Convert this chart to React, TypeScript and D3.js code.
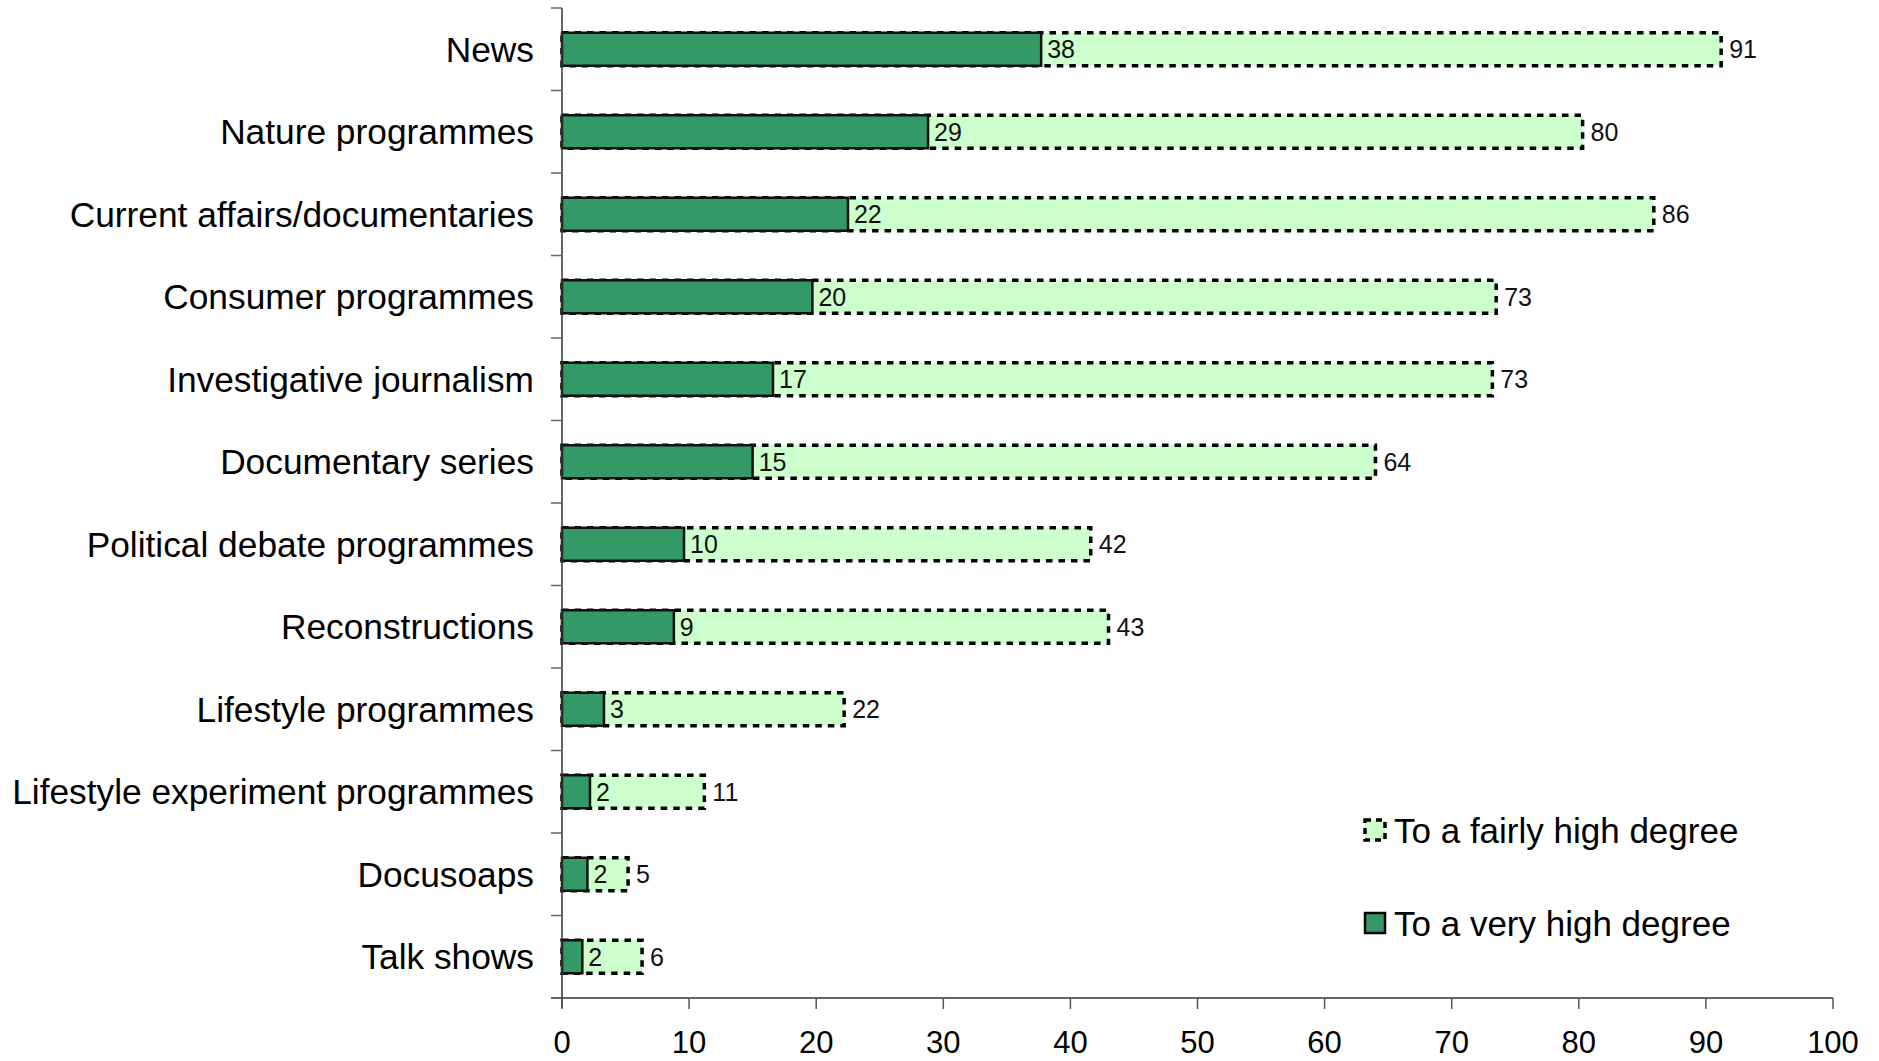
import React, { useEffect, useRef } from "react";
import * as d3 from "d3";

const categories = [
  "News",
  "Nature programmes",
  "Current affairs/documentaries",
  "Consumer programmes",
  "Investigative journalism",
  "Documentary series",
  "Political debate programmes",
  "Reconstructions",
  "Lifestyle programmes",
  "Lifestyle experiment programmes",
  "Docusoaps",
  "Talk shows",
];
const veryHigh = [37.7, 28.8, 22.5, 19.7, 16.6, 15.0, 9.6, 8.8, 3.3, 2.2, 2.0, 1.6];
const fairlyHigh = [91.2, 80.3, 85.9, 73.5, 73.2, 64.0, 41.6, 43.0, 22.2, 11.2, 5.2, 6.3];
const veryHighLabels = ["38", "29", "22", "20", "17", "15", "10", "9", "3", "2", "2", "2"];
const fairlyHighLabels = ["91", "80", "86", "73", "73", "64", "42", "43", "22", "11", "5", "6"];
const xTicks = [0, 10, 20, 30, 40, 50, 60, 70, 80, 90, 100];
const legendItems = ["To a fairly high degree", "To a very high degree"];

const W = 1879;
const H = 1061;
const FONT = "'Liberation Sans', Arial, sans-serif";
const DARK = "#339966";
const LIGHT = "#CCFFCC";

export default function App() {
  const ref = useRef<SVGSVGElement>(null);

  useEffect(() => {
    const svg = d3.select(ref.current);
    svg.selectAll("*").remove();

    const x0 = 562, x1 = 1833, yTop = 8, yBot = 998;
    const x = d3.scaleLinear().domain([0, 100]).range([x0, x1]);
    const y = d3.scaleBand<string>().domain(categories).range([yTop, yBot]).paddingInner(0.6).paddingOuter(0.3);
    const band = d3.scaleBand<string>().domain(categories).range([yTop, yBot]);

    const g = svg.append("g");

    // light bars (behind)
    g.selectAll("rect.light")
      .data(categories)
      .enter()
      .append("rect")
      .attr("x", x(0))
      .attr("y", (d) => y(d)!)
      .attr("width", (_d, i) => x(fairlyHigh[i]) - x(0))
      .attr("height", y.bandwidth())
      .attr("fill", LIGHT)
      .attr("stroke", "#000")
      .attr("stroke-width", 3.5)
      .attr("stroke-dasharray", "6.5,6");

    // dark bars
    g.selectAll("rect.dark")
      .data(categories)
      .enter()
      .append("rect")
      .attr("x", x(0))
      .attr("y", (d) => y(d)!)
      .attr("width", (_d, i) => x(veryHigh[i]) - x(0))
      .attr("height", y.bandwidth())
      .attr("fill", DARK)
      .attr("stroke", "#111")
      .attr("stroke-width", 2.5);

    // value labels
    g.selectAll("text.vh")
      .data(categories)
      .enter()
      .append("text")
      .attr("x", (_d, i) => x(veryHigh[i]) + 6)
      .attr("y", (d) => y(d)! + y.bandwidth() / 2)
      .attr("dy", "0.36em")
      .attr("font-family", FONT)
      .attr("font-size", 25)
      .attr("fill", "#111")
      .text((_d, i) => veryHighLabels[i]);

    g.selectAll("text.fh")
      .data(categories)
      .enter()
      .append("text")
      .attr("x", (_d, i) => x(fairlyHigh[i]) + 8)
      .attr("y", (d) => y(d)! + y.bandwidth() / 2)
      .attr("dy", "0.36em")
      .attr("font-family", FONT)
      .attr("font-size", 25)
      .attr("fill", "#111")
      .text((_d, i) => fairlyHighLabels[i]);

    // y axis
    g.append("line")
      .attr("x1", x0).attr("x2", x0)
      .attr("y1", yTop).attr("y2", yBot + 10)
      .attr("stroke", "#333").attr("stroke-width", 1.5);
    const bounds = d3.range(categories.length + 1).map((i) => yTop + i * band.bandwidth());
    g.selectAll("line.ytick")
      .data(bounds.slice(0, categories.length))
      .enter()
      .append("line")
      .attr("x1", x0 - 11).attr("x2", x0)
      .attr("y1", (d) => d).attr("y2", (d) => d)
      .attr("stroke", "#666").attr("stroke-width", 1.5);

    // category labels
    g.selectAll("text.cat")
      .data(categories)
      .enter()
      .append("text")
      .attr("x", 534)
      .attr("y", (d) => band(d)! + band.bandwidth() / 2)
      .attr("dy", "0.36em")
      .attr("text-anchor", "end")
      .attr("font-family", FONT)
      .attr("font-size", 35.3)
      .attr("fill", "#000")
      .text((d) => d);

    // x axis
    g.append("line")
      .attr("x1", x0 - 11).attr("x2", x1)
      .attr("y1", yBot).attr("y2", yBot)
      .attr("stroke", "#333").attr("stroke-width", 1.5);
    g.selectAll("line.xtick")
      .data(xTicks)
      .enter()
      .append("line")
      .attr("x1", (d) => x(d)).attr("x2", (d) => x(d))
      .attr("y1", yBot).attr("y2", yBot + 11)
      .attr("stroke", "#555").attr("stroke-width", 1.5);
    g.selectAll("text.xtl")
      .data(xTicks)
      .enter()
      .append("text")
      .attr("x", (d) => x(d))
      .attr("y", 1053)
      .attr("text-anchor", "middle")
      .attr("font-family", FONT)
      .attr("font-size", 31)
      .attr("fill", "#000")
      .text((d) => String(d));

    // legend
    const legY = [830, 923];
    const lg = g.append("g");
    legendItems.forEach((label, i) => {
      lg.append("rect")
        .attr("x", 1365).attr("y", legY[i] - 10)
        .attr("width", 20).attr("height", 20)
        .attr("fill", i === 0 ? LIGHT : DARK)
        .attr("stroke", "#000")
        .attr("stroke-width", i === 0 ? 3.5 : 2.5)
        .attr("stroke-dasharray", i === 0 ? "6,5" : null);
      lg.append("text")
        .attr("x", 1394).attr("y", legY[i])
        .attr("dy", "0.36em")
        .attr("font-family", FONT)
        .attr("font-size", 35)
        .attr("fill", "#000")
        .text(label);
    });
  }, []);

  return (
    <svg
      ref={ref}
      width={W}
      height={H}
      style={{ position: "absolute", left: 0, top: 0, background: "#fff" }}
    />
  );
}
